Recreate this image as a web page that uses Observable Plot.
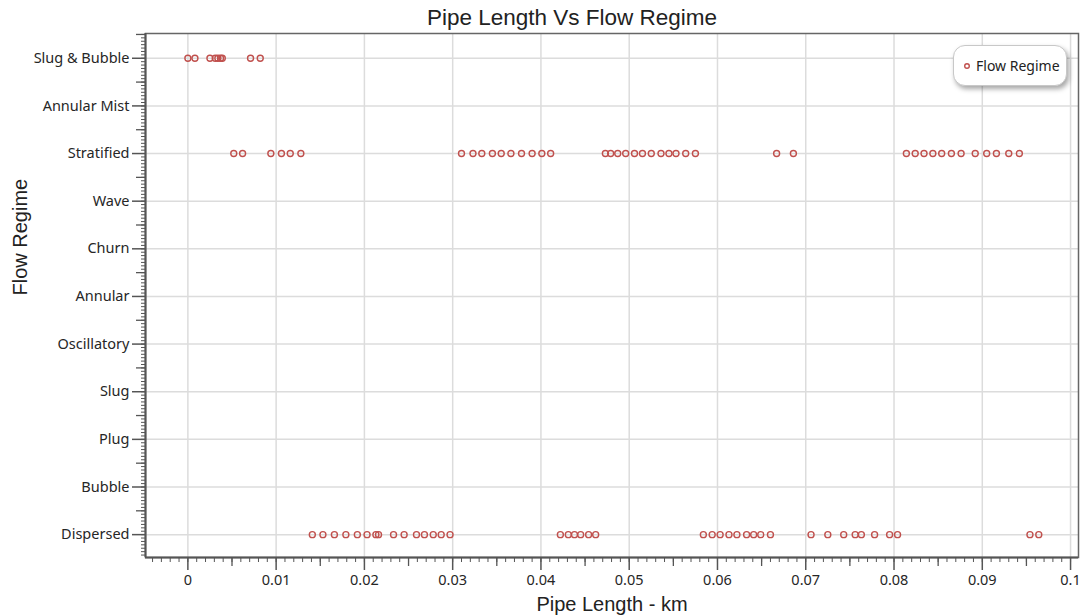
<!DOCTYPE html>
<html>
<head>
<meta charset="utf-8">
<script src="https://cdn.jsdelivr.net/npm/d3@7"></script>
<script src="https://cdn.jsdelivr.net/npm/@observablehq/plot@0.6"></script>
<style>
  html, body { margin: 0; padding: 0; background: #fff; }
  #chart { position: relative; width: 1081px; height: 616px; }
  .legend {
    position: absolute; left: 953px; top: 45px; width: 114px; height: 41px;
    box-sizing: border-box; background: #fff; border: 1px solid #c8c8c8; border-radius: 12px;
    box-shadow: 2px 3px 5px rgba(0,0,0,0.35);
    font-family: "Noto Sans", sans-serif; font-size: 14px; color: #222;
    display: flex; align-items: center; padding-left: 9px; gap: 5px;
  }
  .legend svg { display: block; }
</style>
</head>
<body>
<div id="chart"></div>
<script>
// Flow regime categories, top to bottom
const regimes = ["Slug & Bubble", "Annular Mist", "Stratified", "Wave", "Churn", "Annular",
  "Oscillatory", "Slug", "Plug", "Bubble", "Dispersed"];

// Pipe positions (km) at which each regime occurs
const slugBubbleKm = [0, 0.0008, 0.0025, 0.0031, 0.0034, 0.0037, 0.0039, 0.0071, 0.0082];

const stratifiedKm = [0.0052, 0.0062, 0.0094, 0.0106, 0.0116, 0.0128,
  0.0310, 0.0323, 0.0333, 0.0345, 0.0355, 0.0366, 0.0378, 0.0390, 0.0401, 0.0411,
  0.0473, 0.0479, 0.0487, 0.0496, 0.0506, 0.0515, 0.0525, 0.0536, 0.0545, 0.0553, 0.0564, 0.0575,
  0.0667, 0.0686,
  0.0814, 0.0824, 0.0834, 0.0844, 0.0854, 0.0865, 0.0876, 0.0892, 0.0905, 0.0916, 0.0930, 0.0942];

const dispersedKm = [0.0141, 0.0153, 0.0166, 0.0179, 0.0192, 0.0203, 0.0213, 0.0216,
  0.0233, 0.0245, 0.0259, 0.0268, 0.0278, 0.0287, 0.0297,
  0.0422, 0.0431, 0.0438, 0.0445, 0.0454, 0.0462,
  0.0584, 0.0594, 0.0603, 0.0613, 0.0622, 0.0633, 0.0641, 0.0649, 0.0660,
  0.0706, 0.0725, 0.0743, 0.0756, 0.0763, 0.0778, 0.0795, 0.0804,
  0.0954, 0.0964];

// Axis tick values
const xMajorTicks = d3.range(0, 11).map(k => k / 100);
const xTickLabels = ["0", "0.01", "0.02", "0.03", "0.04", "0.05", "0.06", "0.07", "0.08", "0.09", "0.1"];

const xDomain = [-0.0048, 0.1009];
const yDomain = [-0.48, 10.52];

const rows = [
  ...slugBubbleKm.map(km => ({km, regime: "Slug & Bubble"})),
  ...stratifiedKm.map(km => ({km, regime: "Stratified"})),
  ...dispersedKm.map(km => ({km, regime: "Dispersed"}))
];
const yIndex = r => regimes.length - 1 - regimes.indexOf(r);

const xMidTicks = d3.range(0, 10).map(k => k / 100 + 0.005);
const xMinorTicks = d3.range(-4, 101).map(k => k / 1000);
const yMajorTicks = d3.range(0, regimes.length);
const yMidTicks = d3.range(0, regimes.length + 1).map(k => k - 0.5).filter(v => v >= yDomain[0] && v <= yDomain[1]);
const yMinorTicks = d3.range(Math.ceil(yDomain[0] * 14), Math.floor(yDomain[1] * 14) + 1).map(k => k / 14);

const axisInk = "#555";
const textInk = "#262626";
const titleFont = "'Liberation Sans', Arial, sans-serif";

const chart = Plot.plot({
  width: 1081,
  height: 616,
  marginTop: 33,
  marginLeft: 145,
  marginRight: 3,
  marginBottom: 59,
  x: {domain: xDomain},
  y: {domain: yDomain},
  style: {fontFamily: "'Noto Sans', sans-serif", fontSize: "14.5px", color: textInk, background: "#fff"},
  marks: [
    Plot.gridX(xMajorTicks, {stroke: "#dcdcdc", strokeOpacity: 1, strokeWidth: 1.5}),
    Plot.gridY(yMajorTicks, {stroke: "#dcdcdc", strokeOpacity: 1, strokeWidth: 1.5}),
    Plot.dot(rows, {x: "km", y: d => yIndex(d.regime), r: 3, stroke: "#c0504d", strokeWidth: 1.4, fill: "none"}),
    Plot.frame({stroke: "#666", strokeWidth: 1.5}),
    Plot.ruleX([xDomain[0]], {stroke: axisInk, strokeWidth: 2}),
    Plot.ruleY([yDomain[0]], {stroke: axisInk, strokeWidth: 2}),
    // x axis: minor, half and major ticks
    Plot.axisX(xMinorTicks, {tickSize: 5, tickFormat: () => "", label: null, stroke: axisInk}),
    Plot.axisX(xMidTicks, {tickSize: 9, tickFormat: () => "", label: null, stroke: axisInk, strokeWidth: 1.3}),
    Plot.axisX(xMajorTicks, {tickSize: 13, tickPadding: 4, tickFormat: (d, i) => xTickLabels[i], label: null,
      stroke: axisInk, strokeWidth: 1.5, fill: textInk, fontSize: 14.5}),
    // y axis: minor, half and major ticks
    Plot.axisY(yMinorTicks, {tickSize: 4, tickFormat: () => "", label: null, stroke: axisInk}),
    Plot.axisY(yMidTicks, {tickSize: 9, tickFormat: () => "", label: null, stroke: axisInk, strokeWidth: 1.3}),
    Plot.axisY(yMajorTicks, {tickSize: 13, tickPadding: 3, tickFormat: i => regimes[regimes.length - 1 - i], label: null,
      stroke: axisInk, strokeWidth: 1.5, fill: textInk, fontSize: 14.5}),
    // titles
    Plot.text(["Pipe Length Vs Flow Regime"], {frameAnchor: "top", dx: -40, dy: -16, fontSize: 22.5,
      fontFamily: titleFont, fill: "#222", lineAnchor: "middle"}),
    Plot.text(["Pipe Length - km"], {frameAnchor: "bottom", dy: 47, fontSize: 20,
      fontFamily: titleFont, fill: "#222", lineAnchor: "middle"}),
    Plot.text(["Flow Regime"], {frameAnchor: "left", dx: -125, rotate: -90, fontSize: 20,
      fontFamily: titleFont, fill: "#222", lineAnchor: "middle"})
  ]
});

const host = document.getElementById("chart");
host.appendChild(chart);

// Series legend box
const legend = document.createElement("div");
legend.className = "legend";
legend.innerHTML = `<svg width="8" height="8"><circle cx="4" cy="4" r="2.3" fill="none" stroke="#c0504d" stroke-width="1.4"></circle></svg><span>Flow Regime</span>`;
host.appendChild(legend);
</script>
</body>
</html>
